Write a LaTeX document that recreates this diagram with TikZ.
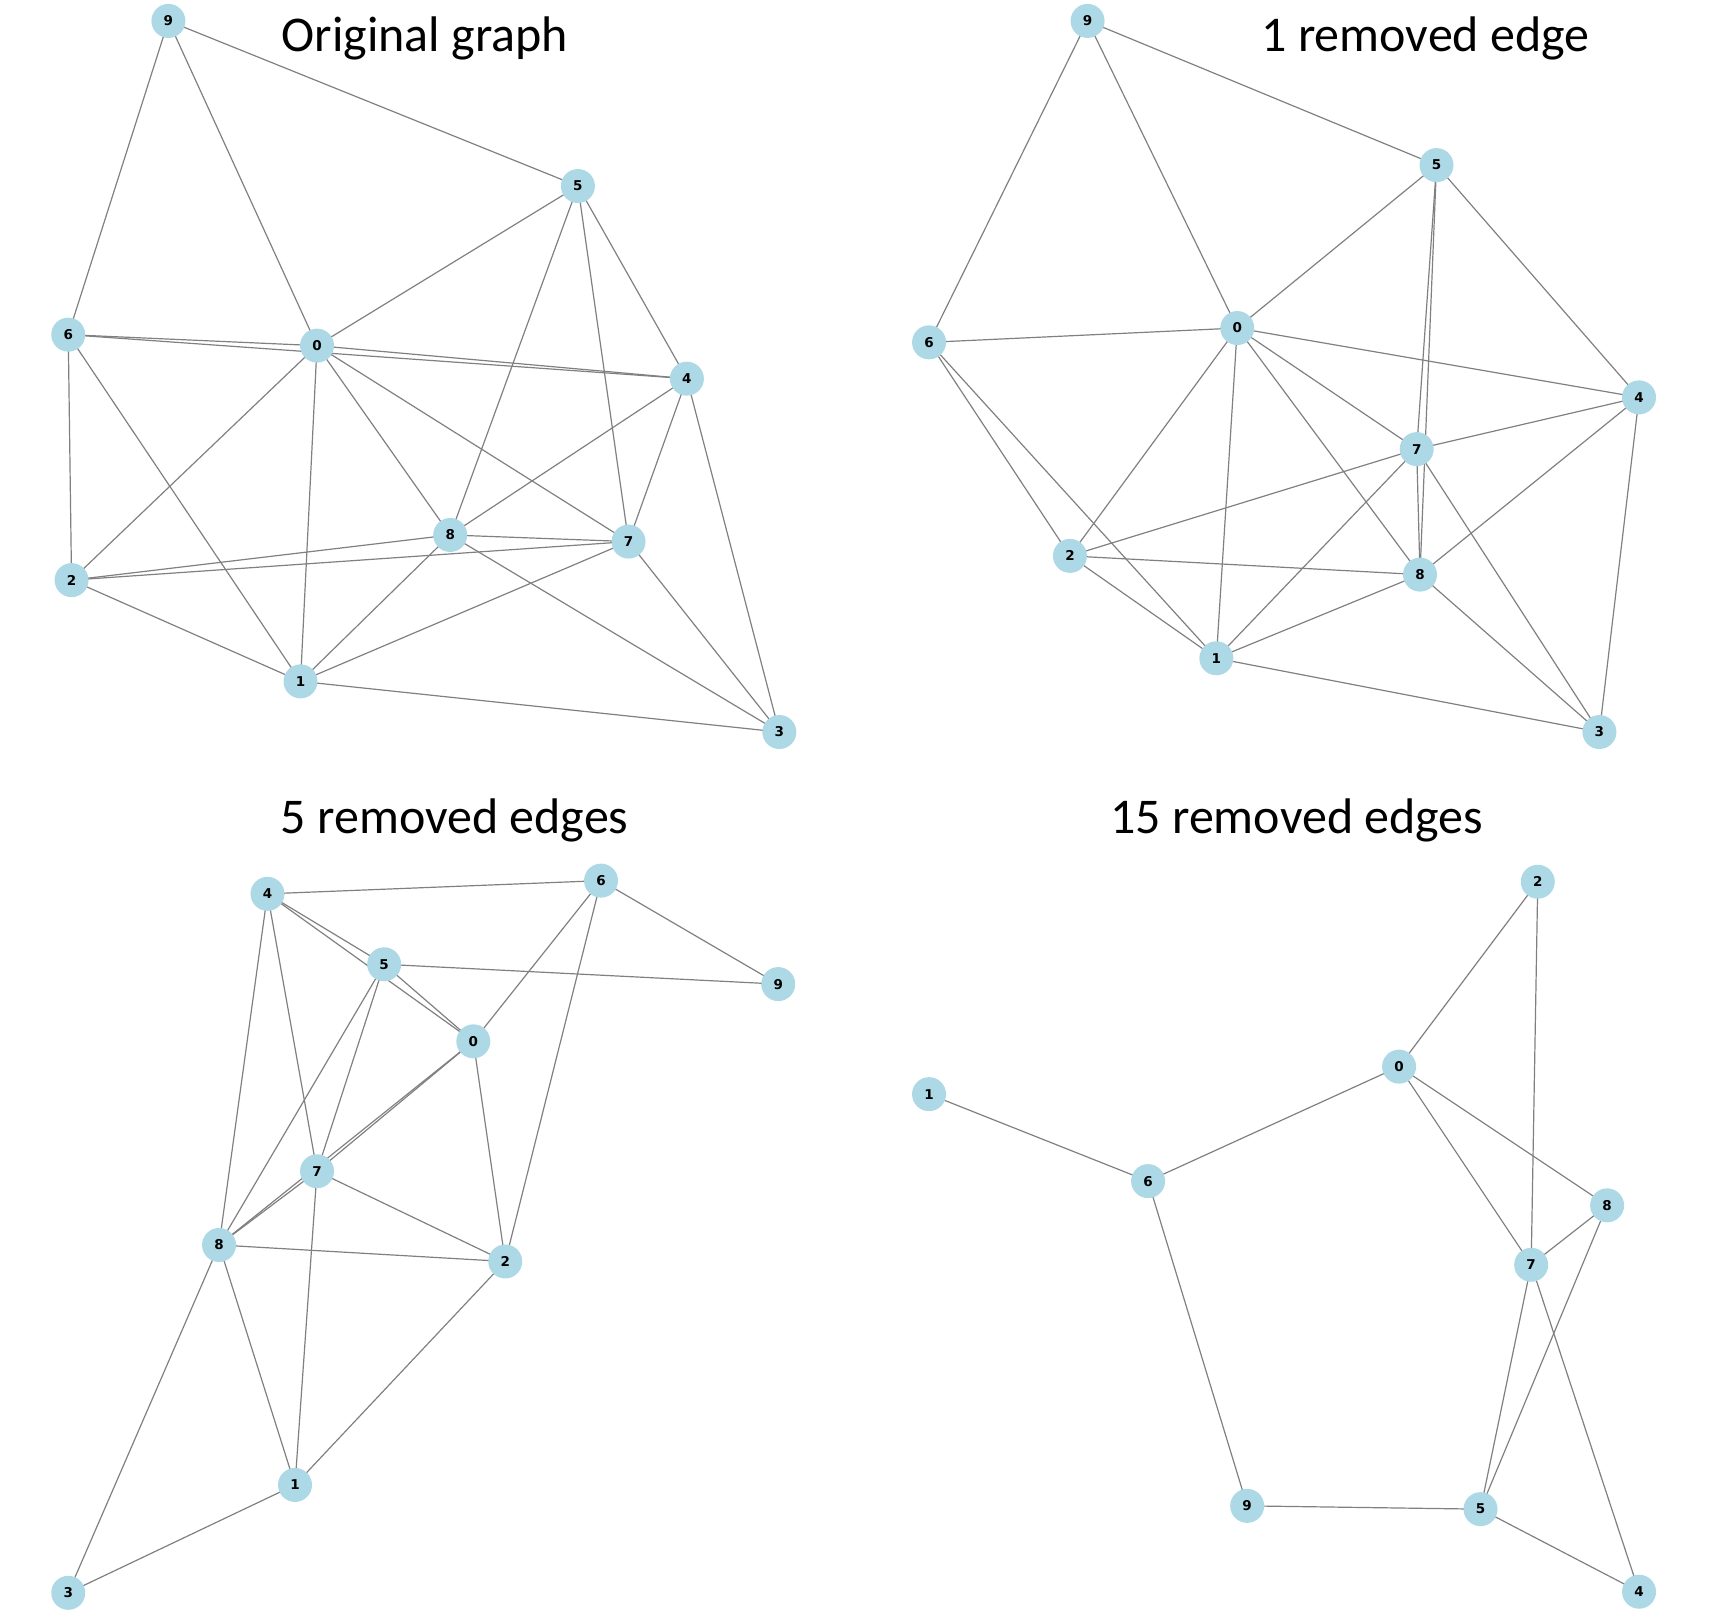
\documentclass[tikz,border=0pt]{standalone}
\usepackage{fontspec}
\setmainfont{Carlito}
\newfontfamily\lblfont{DejaVu Sans}
\begin{document}
\begin{tikzpicture}[x=1.1008pt,y=-1.1008pt,
  vtx/.style={circle,fill=nodeblue,draw=none,minimum size=34pt,inner sep=0pt,font=\lblfont\bfseries\fontsize{13.5}{13.5}\selectfont},
  edg/.style={draw=edgegray,line width=1.2pt},
  ttl/.style={font=\fontsize{50}{50}\selectfont,anchor=center}]
\definecolor{nodeblue}{RGB}{173,216,230}
\definecolor{edgegray}{RGB}{128,128,128}
\useasboundingbox (0,0) rectangle (1568,1468);
% titles
\node[ttl] (t1) at (386,35) {Original graph};
\node[ttl] (t2) at (1295,35) {1 removed edge};
\node[ttl] (t3) at (413,745) {5 removed edges};
\node[ttl] (t4) at (1178,745) {15 removed edges};
% ---------- graph A ----------
\begin{scope}
\coordinate (a9) at (153,19);
\coordinate (a5) at (525,169);
\coordinate (a6) at (62,304);
\coordinate (a0) at (288,314);
\coordinate (a4) at (624,344);
\coordinate (a8) at (409,486);
\coordinate (a7) at (571,492);
\coordinate (a2) at (65,527);
\coordinate (a1) at (273,619);
\coordinate (a3) at (708,665);
\foreach \u/\v in {9/6,9/0,9/5,5/0,5/8,5/7,5/4,6/0,6/4,6/2,6/1,0/2,0/1,0/8,0/7,0/4,4/8,4/7,4/3,8/2,8/7,8/1,8/3,7/2,7/1,7/3,2/1,1/3}
  \draw[edg] (a\u) -- (a\v);
\foreach \n in {0,...,9} \node[vtx] (na\n) at (a\n) {\n};
\end{scope}
% ---------- graph B ----------
\begin{scope}
\coordinate (b9) at (988,19);
\coordinate (b5) at (1305,150);
\coordinate (b6) at (844,311);
\coordinate (b0) at (1124,298);
\coordinate (b4) at (1489,361);
\coordinate (b7) at (1287,408);
\coordinate (b2) at (972,505);
\coordinate (b8) at (1290,522);
\coordinate (b1) at (1105,598);
\coordinate (b3) at (1453,665);
\foreach \u/\v in {9/6,9/0,9/5,5/0,5/7,5/8,5/4,6/0,6/2,6/1,0/2,0/1,0/7,0/8,0/4,4/7,4/8,4/3,7/2,7/1,7/3,7/8,2/8,2/1,8/1,8/3,1/3}
  \draw[edg] (b\u) -- (b\v);
\foreach \n in {0,...,9} \node[vtx] (nb\n) at (b\n) {\n};
\end{scope}
% ---------- graph C ----------
\begin{scope}
\coordinate (c4) at (243,812);
\coordinate (c6) at (546,800);
\coordinate (c5) at (349,876);
\coordinate (c9) at (707,894);
\coordinate (c0) at (430,946);
\coordinate (c7) at (288,1064);
\coordinate (c8) at (199,1131);
\coordinate (c2) at (459,1146);
\coordinate (c1) at (268,1349);
\coordinate (c3) at (62,1447);
\foreach \u/\v in {4/6,4/5,4/0,4/8,4/7,6/0,6/2,6/9,5/9,5/0,5/8,5/7,0/7,0/8,0/2,7/8,7/2,7/1,8/2,8/1,8/3,2/1,1/3}
  \draw[edg] (c\u) -- (c\v);
\foreach \n in {0,...,9} \node[vtx] (nc\n) at (c\n) {\n};
\end{scope}
% ---------- graph D ----------
\begin{scope}
\coordinate (d2) at (1397,801);
\coordinate (d0) at (1271,969);
\coordinate (d1) at (844,994);
\coordinate (d6) at (1043,1073);
\coordinate (d8) at (1460,1095);
\coordinate (d7) at (1391,1149);
\coordinate (d9) at (1133,1368);
\coordinate (d5) at (1345,1371);
\coordinate (d4) at (1489,1446);
\foreach \u/\v in {2/0,2/7,0/6,0/8,0/7,1/6,6/9,8/7,8/5,7/5,7/4,9/5,5/4}
  \draw[edg] (d\u) -- (d\v);
\foreach \n in {0,1,2,4,5,6,7,8,9} \node[vtx] (nd\n) at (d\n) {\n};
\end{scope}
\end{tikzpicture}
\end{document}
